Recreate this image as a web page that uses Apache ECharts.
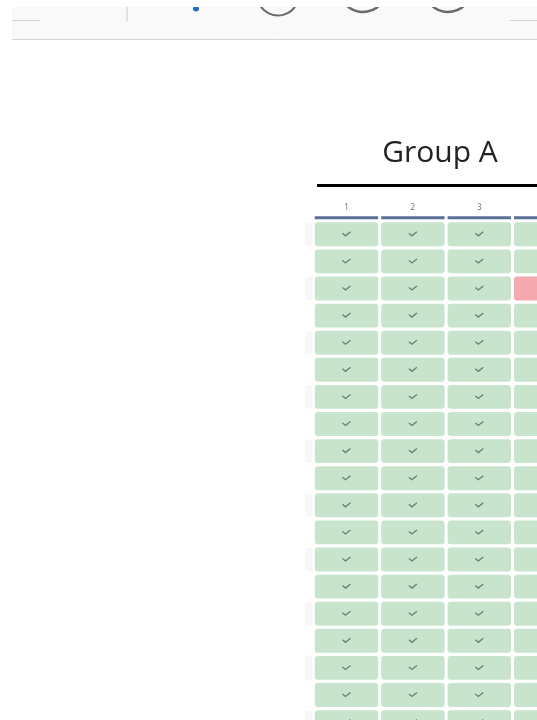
<!DOCTYPE html>
<html>
<head>
<meta charset="utf-8">
<style>
html, body { margin: 0; padding: 0; background: #fff; }
#chart { width: 537px; height: 720px; }
</style>
<script src="https://cdn.jsdelivr.net/npm/echarts@6/dist/echarts.min.js"></script>
</head>
<body>
<div id="chart"></div>
<script>
const columns = ['1', '2', '3', '4'];
const rows = ['r1','r2','r3','r4','r5','r6','r7','r8','r9','r10','r11','r12','r13','r14','r15','r16','r17','r18','r19'];
// the only failed cell: column 4, third row
const failed = [['4', 'r3']];
const shadedRows = ['r1','r3','r5','r7','r9','r11','r13','r15','r17','r19'];

const passCells = [];
columns.forEach(c => {
  rows.forEach(r => {
    if (!failed.some(f => f[0] === c && f[1] === r)) passCells.push([c, r]);
  });
});

function drawCell(color, withCheck) {
  return function (params, api) {
    const p = api.coord([api.value(0), api.value(1)]);
    const size = api.size([1, 1]);
    const w = size[0] - 3;
    const h = size[1] - 3.2;
    const children = [{
      type: 'rect',
      shape: { x: p[0] - w / 2, y: p[1] - h / 2, width: w, height: h, r: 3 },
      style: { fill: color }
    }];
    if (withCheck) {
      children.push({
        type: 'polyline',
        shape: { points: [[p[0] - 4, p[1] - 1], [p[0] - 1, p[1] + 1.5], [p[0] + 4, p[1] - 2.5]] },
        style: { stroke: '#64816d', lineWidth: 1.3, fill: null }
      });
    }
    return { type: 'group', children: children };
  };
}

const chart = echarts.init(document.getElementById('chart'));
chart.setOption({
  animation: false,
  backgroundColor: '#fff',
  grid: { left: 313.3, top: 220.75, width: 265.6, height: 514.9, outerBoundsMode: 'none' },
  xAxis: {
    type: 'category', position: 'top', data: columns, offset: 6,
    axisLine: { show: false }, axisTick: { show: false },
    axisLabel: { fontSize: 8, color: '#777', fontFamily: 'Noto Sans', margin: 3 }
  },
  yAxis: {
    type: 'category', inverse: true, data: rows,
    axisLine: { show: false }, axisTick: { show: false }, axisLabel: { show: false }
  },
  series: [
    {
      type: 'custom', silent: true, clip: false,
      data: shadedRows.map(r => [columns[0], r]),
      encode: { x: 0, y: 1 },
      renderItem: function (params, api) {
        const p = api.coord([api.value(0), api.value(1)]);
        const size = api.size([1, 1]);
        return {
          type: 'rect',
          shape: { x: p[0] - size[0] / 2 - 8, y: p[1] - size[1] / 2 + 2, width: 7, height: size[1] - 4 },
          style: { fill: '#f7f6f8' }
        };
      }
    },
    {
      type: 'custom', silent: true, clip: false,
      data: columns.map(c => [c, rows[0]]),
      encode: { x: 0, y: 1 },
      renderItem: function (params, api) {
        const p = api.coord([api.value(0), api.value(1)]);
        const size = api.size([1, 1]);
        return {
          type: 'rect',
          shape: { x: p[0] - (size[0] - 3) / 2, y: p[1] - size[1] / 2 - 4.5, width: size[0] - 3, height: 3 },
          style: { fill: '#5a7096' }
        };
      }
    },
    {
      type: 'custom', silent: true, clip: false,
      data: passCells, encode: { x: 0, y: 1 },
      renderItem: drawCell('#c8e4cc', true)
    },
    {
      type: 'custom', silent: true, clip: false,
      data: failed, encode: { x: 0, y: 1 },
      renderItem: drawCell('#f4a9ae', false)
    }
  ],
  graphic: [
    // toolbar strip cut off at the top of the photo
    { type: 'rect', shape: { x: 12, y: 7, width: 525, height: 32 }, style: { fill: '#f9f9f9' } },
    { type: 'line', shape: { x1: 12, y1: 39.5, x2: 537, y2: 39.5 }, style: { stroke: '#d4d4d4', lineWidth: 1 } },
    { type: 'line', shape: { x1: 12, y1: 20.5, x2: 40, y2: 20.5 }, style: { stroke: '#d0d0d0', lineWidth: 1 } },
    { type: 'line', shape: { x1: 510, y1: 20.5, x2: 537, y2: 20.5 }, style: { stroke: '#d0d0d0', lineWidth: 1 } },
    { type: 'line', shape: { x1: 127, y1: 7, x2: 127, y2: 21 }, style: { stroke: '#c8c8c8', lineWidth: 1 } },
    { type: 'circle', shape: { cx: 196, cy: 8.5, r: 3 }, style: { fill: '#1f6fc4' } },
    { type: 'arc', shape: { cx: 278, cy: -5.5, r: 21, startAngle: 0.5, endAngle: 2.64 }, style: { stroke: '#6a6a6a', fill: null, lineWidth: 2 } },
    { type: 'arc', shape: { cx: 363, cy: -12, r: 24, startAngle: 0.6, endAngle: 2.54 }, style: { stroke: '#6a6a6a', fill: null, lineWidth: 2.5 } },
    { type: 'arc', shape: { cx: 448, cy: -12, r: 24, startAngle: 0.6, endAngle: 2.54 }, style: { stroke: '#6a6a6a', fill: null, lineWidth: 2.5 } },
    { type: 'rect', shape: { x: 0, y: 0, width: 537, height: 7 }, style: { fill: '#fff' } },
    // heading
    { type: 'text', x: 440, y: 153, style: { text: 'Group A', font: '30px "Open Sans"', fill: '#222', textAlign: 'center', textVerticalAlign: 'middle' } },
    { type: 'line', shape: { x1: 317, y1: 185.5, x2: 537, y2: 185.5 }, style: { stroke: '#000', lineWidth: 3 } }
  ]
});
</script>
</body>
</html>
